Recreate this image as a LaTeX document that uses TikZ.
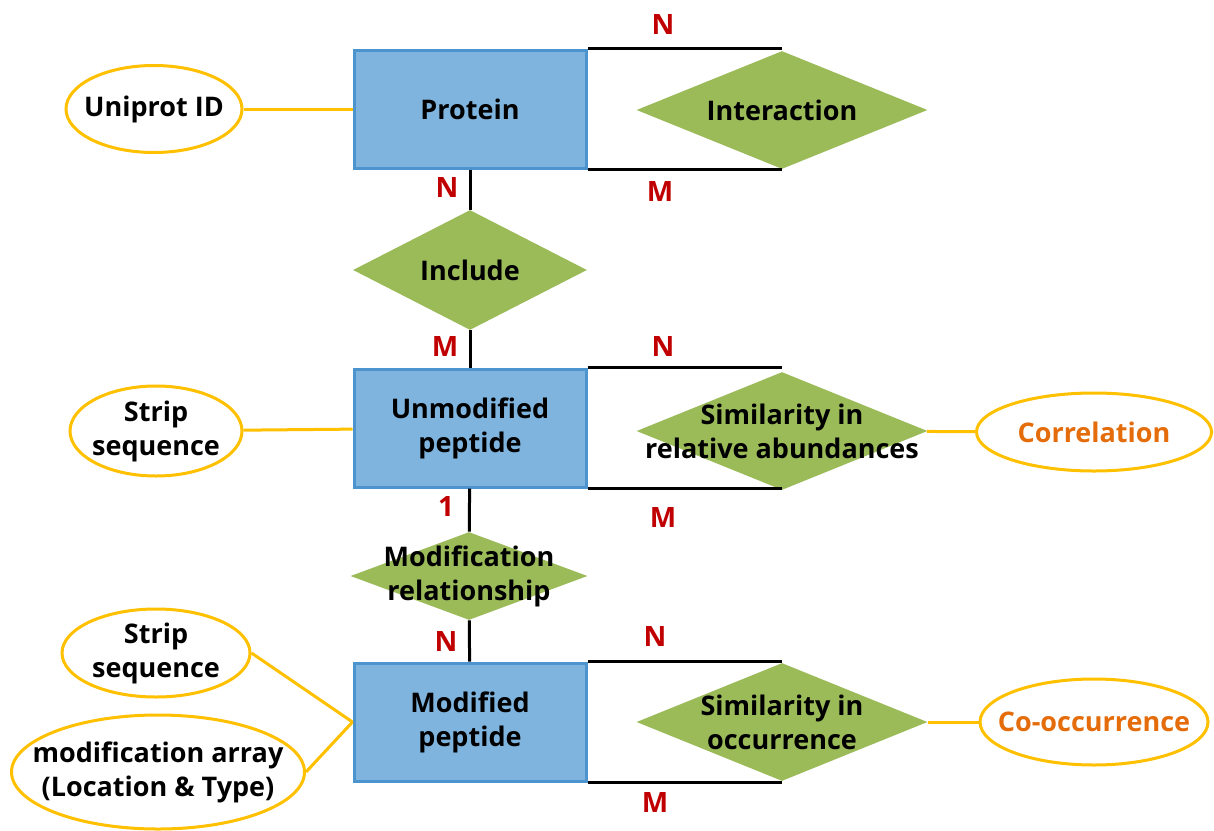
\documentclass[tikz,border=0pt]{standalone}
\usepackage{fontspec}
\setmainfont{Open Sans}
\usepackage{xcolor}
\usetikzlibrary{positioning}
\usetikzlibrary{shapes.geometric}
\definecolor{entityfill}{HTML}{7EB4DE}
\definecolor{entityline}{HTML}{4D93CE}
\definecolor{relfill}{HTML}{9BBB59}
\definecolor{attrline}{HTML}{FFC000}
\definecolor{cardred}{HTML}{C00000}
\definecolor{attrorange}{HTML}{E46C0A}
\tikzset{
	entity/.style={
		rectangle,
		draw=entityline,
		fill=entityfill,
		line width=1.5pt,
		align=center,
		minimum width=116pt,
		minimum height=59pt,
		inner sep=0pt
	},
	relation/.style={
		diamond,
		fill=relfill,
		minimum width=145.5pt,
		minimum height=59pt,
		inner sep=0pt
	},
	attribute/.style={
		ellipse,
		draw=attrline,
		fill=white,
		line width=1.5pt,
		inner sep=0pt
	},
	card/.style={text=cardred, font=\fontsize{14pt}{17pt}\selectfont\bfseries},
	link/.style={line width=1.5pt},
	attrlink/.style={draw=attrline, line width=1.5pt}
}

\begin{document}
\begin{tikzpicture}[x=0.5pt, y=-0.5pt, font=\fontsize{13.5pt}{17pt}\selectfont\bfseries]
		\useasboundingbox (0,0) rectangle (1214,830);
		
		% entities
		\draw node[entity] (Protein) at (470,109) {Protein};
		\draw node[entity] (Unmodified) at (470,428) {Unmodified\\ peptide};
		\draw node[entity] (Modified) at (470,722) {Modified\\ peptide};
		
		% relations
		\draw node[relation, label={[align=center]center:Interaction}] (Interaction) at (782,110) {};
		\draw node[relation, minimum width=117pt, minimum height=60pt, label={[align=center]center:Include}] (Include) at (470,270) {};
		\draw node[relation, label={[align=center]center:{Similarity in\\ relative abundances}}] (SimAbund) at (782,431) {};
		\draw node[relation, minimum width=118.5pt, minimum height=44pt, label={[align=center]center:{Modification\\ relationship}}] (ModRel) at (469,576) {};
		\draw node[relation, label={[align=center]center:{Similarity in\\ occurrence}}] (SimOcc) at (782,722) {};
		
		% attributes
		\draw node[attribute, minimum width=88pt, minimum height=43.5pt, label={[align=center]center:Uniprot ID}] (UniprotID) at (154,109) {};
		\draw node[attribute, minimum width=86pt, minimum height=45pt, label={[align=center]center:{Strip\\ sequence}}] (StripA) at (156,431) {};
		\draw node[attribute, minimum width=94pt, minimum height=44pt, label={[align=center]center:{Strip\\ sequence}}] (StripB) at (156,653) {};
		\draw node[attribute, minimum width=146.5pt, minimum height=57pt, label={[align=center]center:{modification array\\ (Location \& Type)}}] (ModArray) at (158,772) {};
		\draw node[attribute, minimum width=117.5pt, minimum height=39pt, label={[align=center, text=attrorange]center:Correlation}] (Correlation) at (1094,432) {};
		\draw node[attribute, minimum width=114pt, minimum height=43pt, label={[align=center, text=attrorange]center:Co-occurrence}] (CoOcc) at (1094,722) {};
		
		% cardinalities
		\draw node[card] (CardNa) at (663,25) {N};
		\draw node[card] (CardMa) at (660,192) {M};
		\draw node[card] (CardNb) at (447,188) {N};
		\draw node[card] (CardMb) at (445,347) {M};
		\draw node[card] (CardNc) at (663,347) {N};
		\draw node[card] (CardMc) at (663,517) {M};
		\draw node[card] (CardOne) at (446,506) {1};
		\draw node[card] (CardNd) at (446,641) {N};
		\draw node[card] (CardNe) at (655,636) {N};
		\draw node[card] (CardMe) at (655,802) {M};
		
		\draw [link] (Protein.north east) -- (Protein.north east -| Interaction.north);
		\draw [link] (Protein.south east) -- (Protein.south east -| Interaction.south);
		\draw [link] (Protein) -- (Include);
		\draw [link] (Include) -- (Unmodified);
		\draw [link] (Unmodified.north east) -- (Unmodified.north east -| SimAbund.north);
		\draw [link] (Unmodified.south east) -- (Unmodified.south east -| SimAbund.south);
		\draw [link] (Unmodified) -- (ModRel);
		\draw [link] (ModRel) -- (Modified);
		\draw [link] (Modified.north east) -- (Modified.north east -| SimOcc.north);
		\draw [link] (Modified.south east) -- (Modified.south east -| SimOcc.south);
		
		\draw [attrlink] (UniprotID) -- (Protein);
		\draw [attrlink] (StripA) -- (Unmodified);
		\draw [attrlink] (StripB.east) -- (Modified.west);
		\draw [attrlink] (ModArray.east) -- (Modified.west);
		\draw [attrlink] (SimAbund) -- (Correlation);
		\draw [attrlink] (SimOcc) -- (CoOcc);
	\end{tikzpicture}
\end{document}
